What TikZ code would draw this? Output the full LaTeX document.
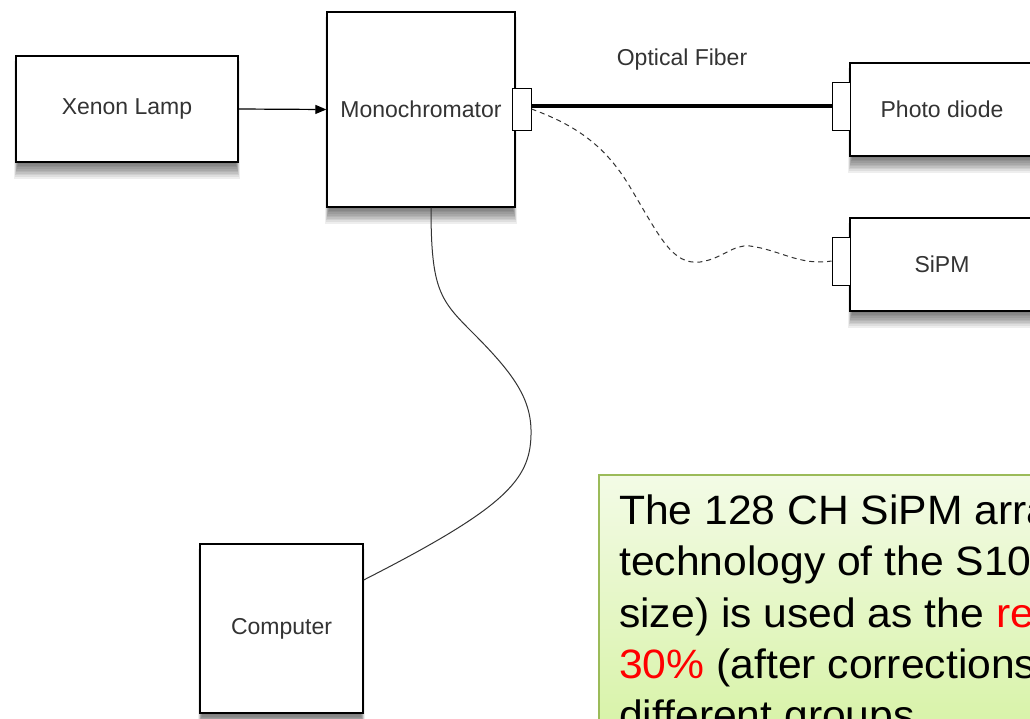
\documentclass[tikz,border=0pt]{standalone}
\usepackage{fontspec}
\setmainfont{Liberation Sans}
\newfontfamily\notefont[FakeStretch=1.04]{Liberation Sans}
\usetikzlibrary{arrows.meta,backgrounds,calc}
\definecolor{txt}{HTML}{333333}
\definecolor{notegreen}{HTML}{9BBB59}
\definecolor{gtop}{HTML}{F3FBE6}
\definecolor{gbot}{HTML}{D6F2A4}
\tikzset{
  blk/.style={draw=black, line width=1.3pt, fill=white, rectangle, inner sep=0pt,
    font=\fontsize{23}{27}\selectfont, text=txt},
  portbox/.style={draw=black, line width=1pt, fill=white, rectangle, inner sep=0pt},
  fiber/.style={line width=4pt, black},
  wire/.style={line width=1pt, txt},
  dashwire/.style={line width=1pt, txt, dash pattern=on 5pt off 4pt},
  feed/.style={line width=1.2pt, black, -{Triangle[length=11pt,width=9pt]}},
  lbl/.style={font=\fontsize{23}{27}\selectfont, text=txt, inner sep=0pt},
  notebox/.style={draw=notegreen, line width=1.5pt, top color=gtop, bottom color=gbot,
    rectangle, inner sep=0pt, anchor=north west},
  notetext/.style={font=\notefont\fontsize{41}{49}\selectfont, text=black, inner sep=0pt, anchor=base west},
}
\newcommand{\boxshadow}[1]{%
  \foreach \i in {1,...,10}{%
    \fill[black,opacity=.065] ($(#1.north west)+({3-0.4*\i},6)$) rectangle ($(#1.south east)+({-3+0.4*\i},{1.6*\i})$);}}
\begin{document}
\begin{tikzpicture}[x=1pt,y=-1pt]
\clip (0,0) rectangle (1030,718);

% main boxes
\node[blk, minimum width=222pt, minimum height=106pt] (xenon) at (127,109) {Xenon Lamp};
\node[blk, minimum width=188pt, minimum height=195pt] (mono) at (421,109.5) {Monochromator};
\node[blk, minimum width=184pt, minimum height=93pt] (pd) at (942,109.5) {Photo diode};
\node[blk, minimum width=184pt, minimum height=93pt] (sipm) at (942,264.5) {SiPM};
\node[blk, minimum width=163pt, minimum height=169pt] (comp) at (281.5,628.5) {Computer};

% ports
\node[portbox, minimum width=19pt, minimum height=42pt] (mport) at (521.5,109) {};
\node[portbox, minimum width=18pt, minimum height=48pt] (pdport) at (841,106) {};
\node[portbox, minimum width=18pt, minimum height=48pt] (sport) at (841,261) {};

\begin{scope}[on background layer]
  \fill[white] (0,0) rectangle (1030,718);
  \boxshadow{xenon}
  \boxshadow{mono}
  \boxshadow{pd}
  \boxshadow{sipm}
  \boxshadow{comp}
\end{scope}

% label
\node[lbl] (oflabel) at (682,60) {Optical Fiber};

% connectors
\draw[feed] (xenon.east) -- (mono.west);
\draw[fiber] (mport.east |- pdport.west) -- (pdport.west);
\draw[dashwire] (mport.east) .. controls (575,125) and (605,145) .. (630,187)
  .. controls (660,237) and (672,265) .. (700,262)
  .. controls (722,259) and (733,244) .. (750,246)
  .. controls (780,250) and (800,266) .. (sport.west);
\draw[wire] (mono.south -| 431,0) .. controls (431,290) and (440,300) .. (473,333)
  .. controls (515,375) and (532,400) .. (531,435)
  .. controls (530,480) and (505,508) .. (comp.east |- 0,580);

% note
\node[notebox, minimum width=450pt, minimum height=270pt] (note) at (598,474) {};
\node[notetext] (l1) at (619,524) {The 128 CH SiPM arra};
\node[notetext] (l2) at (619,575.5) {technology of the S10};
\node[notetext] (l3) at (619,627) {size) is used as the \textcolor{red}{re}};
\node[notetext] (l4) at (619,678) {\textcolor{red}{30\%} (after corrections};
\node[notetext] (l5) at (619,729.5) {different groups};
\end{tikzpicture}
\end{document}
